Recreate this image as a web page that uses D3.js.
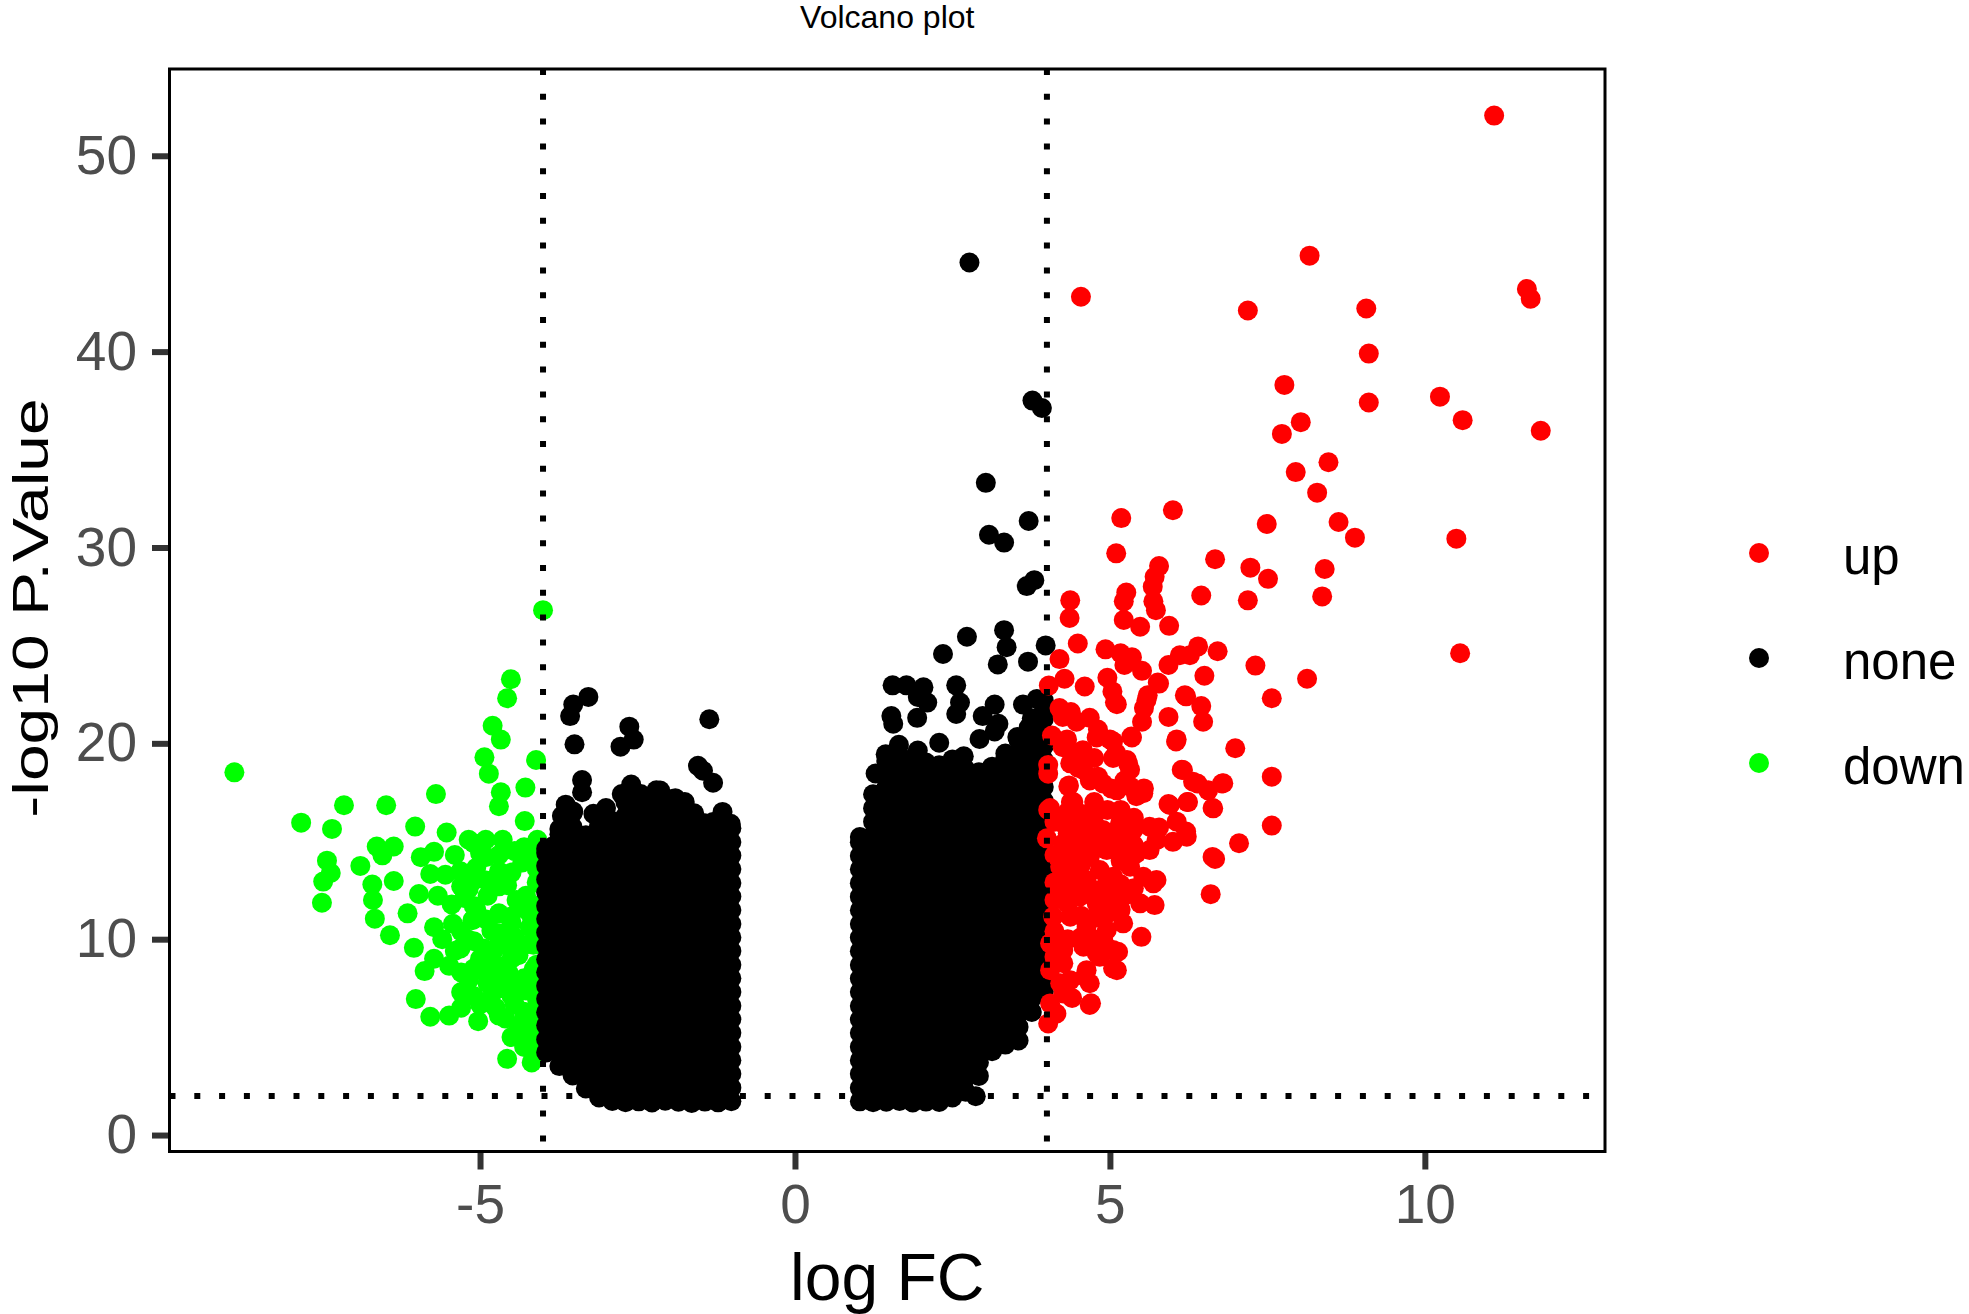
<!DOCTYPE html>
<html>
<head>
<meta charset="utf-8">
<script src="https://cdn.jsdelivr.net/npm/d3@7"></script>
<style>
    body { margin: 0; background: #ffffff; }
    svg { display: block; font-family: "Liberation Sans", Arial, Helvetica, sans-serif; }
</style>
</head>
<body>
<svg id="chart" width="1969" height="1314"></svg>
<script>

/** Significant genes, up-regulated: [logFC, -log10 P] */
const upPoints = [
    [11.1, 52.05], [8.17, 44.9], [4.54, 42.8], [7.19, 42.1], [9.07, 42.2], [11.62, 43.2], [11.68, 42.7],
    [9.11, 39.9], [7.77, 38.3], [10.24, 37.7], [9.11, 37.4], [8.03, 36.4], [10.6, 36.5], [7.73, 35.8],
    [11.84, 35.96], [8.47, 34.35], [7.95, 33.85], [8.29, 32.8], [7.49, 31.2], [8.63, 31.3], [8.89, 30.5],
    [10.5, 30.45], [5.18, 31.5], [6.0, 31.9], [5.1, 29.7], [6.67, 29.4], [7.23, 28.97], [8.41, 28.9],
    [7.51, 28.4], [5.78, 29.05], [7.19, 27.3], [8.37, 27.5], [10.56, 24.6], [7.31, 23.97], [8.13, 23.3],
    [7.57, 22.3], [6.99, 19.75], [7.57, 18.3], [7.57, 15.8], [7.05, 14.9], [6.63, 14.2], [6.6, 12.3],
    [4.7, 6.73], [4.02, 5.7],
    [6.45, 27.55], [5.71, 28.5], [5.68, 28.0], [5.26, 27.7], [5.22, 27.25], [5.69, 27.25], [5.73, 26.8],
    [5.22, 26.3], [5.48, 25.95], [5.94, 26.0], [4.37, 27.3], [4.36, 26.4], [4.49, 25.1], [4.2, 24.3],
    [4.28, 23.3], [4.03, 22.95], [4.6, 22.9], [4.93, 24.8], [5.17, 24.6], [5.35, 24.4], [5.23, 24.0],
    [5.51, 23.7], [5.93, 24.0], [6.11, 24.5], [6.27, 24.5], [6.4, 24.95], [6.71, 24.7], [6.5, 23.45],
    [4.96, 23.35], [5.04, 22.65], [5.11, 22.0], [5.78, 23.05], [5.6, 22.45], [5.54, 21.8], [6.21, 22.4],
    [6.45, 21.9], [6.48, 21.1], [5.93, 21.35], [6.05, 20.1], [5.51, 21.1], [5.35, 20.3], [5.05, 20.1],
    [4.2, 21.8], [4.38, 21.6], [4.68, 21.3], [4.81, 20.7], [4.08, 20.4], [4.32, 20.2], [4.5, 19.5],
    [4.75, 19.25], [5.05, 19.25], [5.29, 18.95], [4.5, 18.75], [4.81, 18.3], [5.23, 18.1], [5.54, 17.7],
    [4.02, 18.45], [4.35, 17.85], [4.68, 18.1], [5.02, 17.7], [5.42, 17.3], [5.93, 16.9], [6.14, 18.65],
    [6.39, 17.95], [6.23, 17.0], [6.63, 16.7], [6.78, 17.95], [4.05, 16.7], [4.38, 17.0], [5.78, 15.7],
    [6.21, 15.5], [4.75, 15.7],
    [5.08, 22.1], [5.58, 22.2], [5.76, 23.1], [6.19, 22.45], [6.06, 20.2], [5.34, 20.35], [4.25, 21.35],
    [4.47, 21.1], [4.25, 19.8], [4.57, 19.65], [4.79, 20.3], [5.0, 20.2], [5.1, 19.5], [5.27, 19.15],
    [5.32, 18.65], [4.02, 18.9], [4.37, 18.98], [4.58, 18.64], [4.74, 18.21], [4.89, 17.95], [5.11, 17.6],
    [5.32, 17.8], [5.53, 17.45], [4.34, 17.8], [4.42, 17.0], [4.02, 16.6], [5.95, 16.85], [6.06, 16.0],
    [6.16, 18.64], [6.32, 18.04], [6.56, 17.6], [6.8, 17.96], [6.64, 16.68], [6.24, 17.0], [6.0, 14.97],
    [6.22, 15.23], [6.67, 14.1], [4.0, 15.15], [4.26, 15.9], [4.52, 15.74], [4.74, 16.08], [4.89, 15.57],
    [5.16, 15.91], [5.37, 15.57], [5.63, 15.74], [4.26, 14.9], [4.47, 14.55], [4.68, 14.2], [4.95, 14.55],
    [5.21, 14.72], [5.42, 14.38], [5.63, 14.55], [5.74, 15.06], [4.21, 13.7], [4.42, 13.36], [4.63, 13.02],
    [4.84, 13.53], [5.05, 13.19], [5.32, 13.7], [5.53, 13.19], [5.74, 13.02], [4.26, 12.51], [4.52, 12.17],
    [4.79, 11.83], [5.0, 12.51], [5.21, 12.17], [5.48, 11.83], [5.71, 11.74], [4.1, 11.15], [4.37, 11.15],
    [4.63, 10.64], [4.95, 10.47], [5.21, 10.81], [5.5, 10.12], [4.05, 9.79], [4.26, 9.45], [4.58, 9.62],
    [4.79, 9.28], [5.05, 9.45], [5.11, 8.42], [4.05, 8.42], [4.26, 8.77], [4.37, 7.91], [4.63, 8.42],
    [4.68, 7.75], [4.84, 9.1], [4.26, 7.23], [4.05, 6.72],
    [5.69, 12.85], [5.13, 9.36], [5.05, 8.51], [4.6, 8.08], [4.29, 7.75], [4.68, 6.64], [4.21, 7.75],
    [4.12, 9.1], [4.12, 10.4], [4.12, 12.0], [4.12, 12.9], [4.12, 14.3], [4.12, 16.0],
    [4.33, 10.0], [4.33, 11.8], [4.33, 13.0], [4.33, 14.0], [4.33, 15.4], [4.33, 16.5],
    [4.54, 10.1], [4.54, 11.2], [4.54, 12.6], [4.54, 13.8], [4.54, 15.1], [4.54, 16.4],
    [4.75, 10.0], [4.75, 11.1], [4.75, 12.5], [4.75, 14.6], [4.75, 15.1], [4.75, 17.0],
    [4.96, 11.3], [4.96, 12.0], [4.96, 13.0], [4.96, 15.2], [4.96, 16.6],
    [5.17, 11.5], [5.17, 12.8], [5.17, 14.0], [5.17, 15.3], [5.17, 16.6],
    [5.38, 12.6], [5.38, 14.8], [5.38, 16.2], [4.15, 6.2], [4.4, 7.0], [4.9, 9.9]
];

/** Significant genes, down-regulated */
const downPoints = [
    [-4.0, 26.8], [-8.9, 18.52], [-4.51, 23.27], [-4.57, 22.3], [-4.8, 20.9], [-4.67, 20.19], [-4.93, 19.29],
    [-4.86, 18.45], [-4.11, 19.15], [-4.28, 17.74], [-4.67, 17.5], [-4.7, 16.79], [-5.7, 17.41], [-6.49, 16.84],
    [-7.16, 16.84], [-7.84, 15.95], [-7.35, 15.63], [-6.03, 15.75], [-5.53, 15.45], [-4.29, 16.03],
    [-6.64, 14.73], [-6.37, 14.73], [-6.55, 14.28], [-7.43, 14.01], [-7.37, 13.38], [-7.49, 12.94],
    [-7.51, 11.86], [-6.9, 13.74], [-6.71, 12.79], [-6.7, 12.0], [-6.67, 11.05], [-6.43, 10.2], [-6.37, 12.97],
    [-6.15, 11.32], [-6.05, 9.56], [-5.94, 14.19], [-5.73, 14.46], [-5.79, 13.33], [-5.55, 13.29],
    [-5.31, 13.47], [-5.18, 15.08], [-4.91, 15.08], [-4.64, 15.08], [-4.09, 15.08], [-4.33, 13.92],
    [-5.06, 13.65], [-4.7, 13.47], [-5.97, 12.31], [-5.67, 12.22], [-5.45, 11.77], [-5.18, 12.58],
    [-4.88, 12.22], [-4.57, 12.76], [-4.27, 12.22], [-5.73, 10.61], [-5.43, 10.79], [-5.12, 10.97],
    [-4.82, 10.43], [-4.51, 11.15], [-4.21, 10.61], [-5.73, 9.0], [-5.49, 8.64], [-5.31, 9.53], [-5.0, 9.0],
    [-4.7, 8.64], [-4.39, 9.18], [-4.15, 8.46], [-5.88, 8.37], [-5.18, 7.92], [-4.88, 7.74], [-4.57, 7.56],
    [-4.27, 7.38], [-6.02, 6.94], [-5.79, 6.04], [-5.49, 6.1], [-5.03, 5.81], [-5.0, 6.67], [-4.6, 5.95],
    [-4.39, 5.41], [-4.21, 4.88], [-4.15, 5.95], [-4.57, 3.89], [-4.18, 3.71], [-4.45, 6.67], [-4.94, 9.53],
    [-4.76, 9.53], [-4.57, 9.71], [-5.06, 11.5], [-4.7, 11.32], [-4.21, 11.32], [-4.15, 9.71], [-4.88, 6.85],
    [-4.76, 7.38],
    [-5.4, 14.3], [-5.0, 14.4], [-4.45, 14.5], [-4.15, 14.2], [-5.25, 12.1], [-4.42, 12.0], [-4.1, 12.9],
    [-5.6, 10.0], [-5.2, 10.0], [-4.45, 10.1], [-4.1, 10.2], [-5.4, 9.4], [-4.55, 8.3], [-4.1, 7.0],
    [-4.4, 7.8], [-5.3, 7.3], [-4.3, 6.3], [-4.75, 6.5], [-5.3, 6.5], [-4.1, 13.6],
    [-5.3, 12.7], [-5.3, 10.4], [-5.3, 8.3], [-5.1, 14.9], [-5.1, 13.0], [-5.1, 11.7], [-5.1, 9.9],
    [-5.1, 8.5], [-5.1, 7.1], [-4.9, 14.2], [-4.9, 13.0], [-4.9, 11.0], [-4.9, 9.0], [-4.9, 8.2],
    [-4.7, 14.3], [-4.7, 12.7], [-4.7, 10.3], [-4.7, 7.9], [-4.7, 6.1], [-4.5, 13.4], [-4.5, 10.8],
    [-4.5, 9.0], [-4.5, 7.1], [-4.5, 5.0], [-4.3, 14.7], [-4.3, 11.6], [-4.3, 9.7], [-4.3, 8.0],
    [-4.3, 5.9], [-4.3, 4.5], [-4.1, 14.8], [-4.1, 11.7], [-4.1, 8.7], [-4.1, 7.7], [-4.1, 6.5],
    [-4.1, 5.3], [-4.1, 4.4]
];

/** Not significant: scattered genes above the two dense clouds */
const noneOutliers = [
    [-3.28, 22.37], [-3.52, 21.98], [-3.57, 21.39], [-3.5, 19.95], [-2.63, 20.85], [-2.56, 20.19],
    [-2.77, 19.83], [-1.36, 21.23], [-3.38, 18.13], [-3.38, 17.5], [-1.54, 18.85], [-1.3, 17.99],
    [-1.46, 18.6], [-3.64, 16.87], [-3.52, 16.52], [-3.0, 16.7], [-2.75, 17.41], [-2.45, 17.41],
    [-2.14, 17.59], [-1.99, 17.14], [-2.02, 16.43], [-2.39, 16.7], [-2.87, 15.98], [-1.6, 16.43],
    [-1.3, 15.98], [-1.02, 15.89], [-3.64, 15.63], [-3.85, 14.73], [-3.24, 15.09],
    [-3.7, 16.3], [-3.2, 16.4], [-2.6, 17.9], [-2.2, 17.6], [-1.9, 17.2], [-1.75, 17.0], [-1.15, 16.5],
    [2.77, 44.55], [3.77, 37.5], [3.92, 37.12], [3.03, 33.3], [3.71, 31.35], [3.08, 30.65], [3.32, 30.25],
    [3.8, 28.33], [3.68, 28.03], [3.32, 25.78], [3.36, 24.91], [3.22, 24.03], [2.73, 25.44], [2.35, 24.56],
    [3.98, 25.0], [3.7, 24.17], [1.55, 22.96], [1.77, 22.96], [2.04, 22.86], [1.95, 22.37], [2.1, 22.08],
    [1.53, 21.39], [1.56, 21.0], [1.94, 21.3], [2.56, 22.96], [2.62, 22.08], [2.56, 21.5], [3.17, 21.98],
    [2.98, 21.39], [3.23, 21.0], [3.62, 21.98], [3.84, 22.27], [3.96, 21.78], [1.65, 19.93], [1.95, 19.63],
    [2.29, 20.03], [1.44, 19.44], [1.28, 18.46], [2.68, 19.34], [2.93, 20.22], [3.17, 20.61], [3.53, 20.32],
    [3.71, 20.81], [3.84, 20.22], [3.84, 18.85], [2.87, 1.98]
];

/** Not significant, dense cloud with logFC < 0: [logFC, [-log10 P values]] */
const noneLeftCols = [
    [-3.95, [4.22, 4.88, 5.6, 6.27, 6.95, 7.62, 8.31, 8.97, 9.66, 10.34, 11.03, 11.7, 12.38, 13.05, 13.74, 14.4, 14.62]],
    [-3.74, [3.52, 4.17, 4.86, 5.57, 6.23, 6.96, 7.63, 8.37, 9.04, 9.78, 10.43, 11.16, 11.83, 12.57, 13.24, 13.97, 14.63, 15.36, 15.62]],
    [-3.53, [3.04, 3.78, 4.52, 5.18, 5.93, 6.58, 7.32, 7.98, 8.72, 9.38, 10.12, 10.78, 11.52, 12.18, 12.92, 13.58, 14.32, 14.98, 15.72, 16.45]],
    [-3.32, [2.38, 3.08, 3.76, 4.47, 5.16, 5.88, 6.55, 7.27, 7.96, 8.65, 9.36, 10.04, 10.77, 11.44, 12.16, 12.85, 13.57, 14.24, 14.96, 15.31]],
    [-3.11, [1.92, 2.6, 3.31, 4.02, 4.7, 5.41, 6.1, 6.8, 7.49, 8.2, 8.88, 9.59, 10.27, 10.98, 11.67, 12.37, 13.06, 13.76, 14.44, 15.15, 15.8]],
    [-2.9, [1.74, 2.43, 3.12, 3.83, 4.52, 5.21, 5.92, 6.61, 7.3, 8.01, 8.7, 9.39, 10.1, 10.79, 11.48, 12.19, 12.88, 13.57, 14.28, 14.97, 15.66, 16.02]],
    [-2.69, [1.68, 2.36, 3.05, 3.76, 4.45, 5.14, 5.85, 6.54, 7.23, 7.94, 8.63, 9.32, 10.03, 10.72, 11.41, 12.12, 12.81, 13.5, 14.21, 14.9, 15.59, 16.3, 16.98]],
    [-2.48, [1.72, 2.08, 2.77, 3.48, 4.17, 4.86, 5.57, 6.26, 6.95, 7.66, 8.35, 9.04, 9.75, 10.44, 11.13, 11.84, 12.53, 13.22, 13.93, 14.62, 15.31, 16.02, 16.71, 17.28]],
    [-2.27, [1.66, 2.35, 3.06, 3.75, 4.44, 5.15, 5.84, 6.53, 7.24, 7.93, 8.62, 9.33, 10.02, 10.71, 11.42, 12.11, 12.8, 13.51, 14.2, 14.89, 15.6, 16.29, 16.96]],
    [-2.06, [1.75, 2.06, 2.76, 3.45, 4.16, 4.85, 5.54, 6.25, 6.94, 7.63, 8.34, 9.03, 9.72, 10.43, 11.12, 11.81, 12.52, 13.21, 13.9, 14.61, 15.3, 15.99, 16.7, 17.12]],
    [-1.85, [1.7, 2.39, 3.1, 3.79, 4.48, 5.19, 5.88, 6.57, 7.28, 7.97, 8.66, 9.37, 10.06, 10.75, 11.46, 12.15, 12.84, 13.55, 14.24, 14.93, 15.64, 16.28]],
    [-1.64, [1.64, 2.04, 2.73, 3.44, 4.13, 4.82, 5.53, 6.22, 6.91, 7.62, 8.31, 9.0, 9.71, 10.4, 11.09, 11.8, 12.49, 13.18, 13.89, 14.58, 15.27, 15.98, 16.38]],
    [-1.43, [1.71, 2.4, 3.11, 3.8, 4.49, 5.2, 5.89, 6.58, 7.29, 7.98, 8.67, 9.38, 10.07, 10.76, 11.47, 12.16, 12.85, 13.56, 14.25, 14.94, 15.65, 15.92]],
    [-1.22, [1.67, 2.07, 2.78, 3.47, 4.16, 4.87, 5.56, 6.25, 6.96, 7.65, 8.34, 9.05, 9.74, 10.43, 11.14, 11.83, 12.52, 13.23, 13.92, 14.61, 15.32, 15.88]],
    [-1.01, [1.73, 2.42, 3.13, 3.82, 4.51, 5.22, 5.91, 6.6, 7.31, 8.0, 8.69, 9.4, 10.09, 10.78, 11.49, 12.18, 12.87, 13.58, 14.27, 14.96, 15.67]]
];

/** Not significant, dense cloud with logFC > 0 */
const noneRightCols = [
    [1.03, [1.72, 2.41, 3.12, 3.81, 4.5, 5.21, 5.9, 6.59, 7.3, 7.99, 8.68, 9.39, 10.08, 10.77, 11.48, 12.17, 12.86, 13.57, 14.26, 14.95, 15.22]],
    [1.24, [1.68, 2.06, 2.77, 3.46, 4.15, 4.86, 5.55, 6.24, 6.95, 7.64, 8.33, 9.04, 9.73, 10.42, 11.13, 11.82, 12.51, 13.22, 13.91, 14.6, 15.31, 16.0, 16.69, 17.4]],
    [1.45, [1.7, 2.39, 3.1, 3.79, 4.48, 5.19, 5.88, 6.57, 7.28, 7.97, 8.66, 9.37, 10.06, 10.75, 11.46, 12.15, 12.84, 13.55, 14.24, 14.93, 15.64, 16.33, 17.02, 17.73, 18.42, 19.11]],
    [1.66, [1.74, 2.05, 2.74, 3.45, 4.14, 4.83, 5.54, 6.23, 6.92, 7.63, 8.32, 9.01, 9.72, 10.41, 11.1, 11.81, 12.5, 13.19, 13.9, 14.59, 15.28, 15.99, 16.68, 17.37, 18.08, 18.77, 19.38]],
    [1.87, [1.66, 2.37, 3.06, 3.75, 4.46, 5.15, 5.84, 6.55, 7.24, 7.93, 8.64, 9.33, 10.02, 10.73, 11.42, 12.11, 12.82, 13.51, 14.2, 14.91, 15.6, 16.29, 17.0, 17.69, 18.38, 19.09, 19.21]],
    [2.08, [1.71, 2.08, 2.79, 3.48, 4.17, 4.88, 5.57, 6.26, 6.97, 7.66, 8.35, 9.06, 9.75, 10.44, 11.15, 11.84, 12.53, 13.24, 13.93, 14.62, 15.33, 16.02, 16.71, 17.42, 18.11, 18.8, 19.02]],
    [2.29, [1.69, 2.4, 3.09, 3.78, 4.49, 5.18, 5.87, 6.58, 7.27, 7.96, 8.67, 9.36, 10.05, 10.76, 11.45, 12.14, 12.85, 13.54, 14.23, 14.94, 15.63, 16.32, 17.03, 17.72, 18.41, 18.88]],
    [2.5, [1.92, 2.62, 3.31, 4.02, 4.71, 5.4, 6.11, 6.8, 7.49, 8.2, 8.89, 9.58, 10.29, 10.98, 11.67, 12.38, 13.07, 13.76, 14.47, 15.16, 15.85, 16.56, 17.25, 17.94, 18.65, 19.18]],
    [2.71, [2.21, 2.92, 3.61, 4.3, 5.0, 5.69, 6.39, 7.1, 7.78, 8.49, 9.18, 9.88, 10.58, 11.27, 11.97, 12.67, 13.36, 14.06, 14.76, 15.45, 16.15, 16.85, 17.54, 18.24, 18.66]],
    [2.92, [3.02, 3.71, 4.42, 5.11, 5.8, 6.51, 7.2, 7.89, 8.6, 9.29, 9.98, 10.69, 11.38, 12.07, 12.78, 13.47, 14.16, 14.87, 15.56, 16.25, 16.96, 17.65, 18.36, 18.52]],
    [3.13, [4.28, 4.97, 5.68, 6.37, 7.06, 7.77, 8.46, 9.15, 9.86, 10.55, 11.24, 11.95, 12.64, 13.33, 14.04, 14.73, 15.42, 16.13, 16.82, 17.51, 18.22, 18.81]],
    [3.34, [4.62, 5.31, 6.02, 6.71, 7.4, 8.11, 8.8, 9.49, 10.2, 10.89, 11.58, 12.29, 12.98, 13.67, 14.38, 15.07, 15.76, 16.47, 17.16, 17.85, 18.56, 19.25, 19.48]],
    [3.55, [4.83, 5.52, 6.21, 6.92, 7.61, 8.3, 9.01, 9.7, 10.39, 11.1, 11.79, 12.48, 13.19, 13.88, 14.57, 15.28, 15.97, 16.66, 17.37, 18.06, 18.75, 19.46, 20.15]],
    [3.76, [6.28, 6.97, 7.68, 8.37, 9.06, 9.77, 10.46, 11.15, 11.86, 12.55, 13.24, 13.95, 14.64, 15.33, 16.04, 16.73, 17.42, 18.13, 18.82, 19.51, 20.22, 20.91, 21.28]],
    [3.95, [7.32, 8.01, 8.7, 9.41, 10.1, 10.79, 11.5, 12.19, 12.88, 13.59, 14.28, 14.97, 15.68, 16.37, 17.06, 17.77, 18.46, 19.15, 19.86, 20.55, 21.24, 21.95, 22.18]]
];

const xTicks = [-5, 0, 5, 10];
const yTicks = [0, 10, 20, 30, 40, 50];
const fcCutoffs = [-4, 4];
const pCutoff = 2;
const groups = ["up", "none", "down"];
const groupColors = ["#FF0000", "#000000", "#00FF00"];


/** Class drawing the volcano plot. */
class VolcanoPlot {

    constructor(svg) {
        this.svg = svg;

        this.panel = {"left": 169.5, "right": 1605, "top": 69, "bottom": 1151.5};
        this.radius = 10;

        this.xScale = d3.scaleLinear()
            .domain([-9.93, 12.86])
            .range([this.panel.left, this.panel.right]);

        this.yScale = d3.scaleLinear()
            .domain([-0.84, 54.43])
            .range([this.panel.bottom, this.panel.top]);

        this.color = d3.scaleOrdinal().domain(groups).range(groupColors);
    }

    pointRows() {
        let cols = noneLeftCols.concat(noneRightCols);
        let none = cols.flatMap(c => c[1].map(v => [c[0], v]));
        none = none.concat(noneOutliers);

        // draw order: down, none, up
        return [].concat(
            downPoints.map(d => ({"fc": d[0], "p": d[1], "group": "down"})),
            none.map(d => ({"fc": d[0], "p": d[1], "group": "none"})),
            upPoints.map(d => ({"fc": d[0], "p": d[1], "group": "up"}))
        );
    }

    drawAxes() {
        let p = this.panel;

        // plain hyphen for negative labels, like R does
        let plain = d => String(d);

        let yAxis = d3.axisLeft(this.yScale)
            .tickValues(yTicks)
            .tickFormat(plain)
            .tickSize(17.5)
            .tickPadding(15);

        let gy = this.svg.append("g")
            .attr("transform", `translate(${p.left},0)`)
            .call(yAxis);

        let xAxis = d3.axisBottom(this.xScale)
            .tickValues(xTicks)
            .tickFormat(plain)
            .tickSize(18)
            .tickPadding(14.5);

        let gx = this.svg.append("g")
            .attr("transform", `translate(0,${p.bottom})`)
            .call(xAxis);

        [gx, gy].forEach(g => {
            g.select(".domain").remove();
            g.selectAll(".tick line")
                .attr("stroke", "#333333")
                .attr("stroke-width", 6);
            g.selectAll(".tick text")
                .attr("fill", "#4D4D4D")
                .style("font-size", "55px")
                .style("font-family", "'Liberation Sans', Arial, sans-serif");
        });
    }

    drawPoints() {
        this.svg.append("g")
            .selectAll("circle")
            .data(this.pointRows())
            .enter().append("circle")
            .attr("cx", d => this.xScale(d.fc))
            .attr("cy", d => this.yScale(d.p))
            .attr("r", this.radius)
            .attr("fill", d => this.color(d.group));
    }

    drawCutoffs() {
        let p = this.panel;
        let g = this.svg.append("g")
            .attr("stroke", "#000000")
            .attr("stroke-width", 6)
            .attr("stroke-dasharray", "6 18.8");

        g.selectAll("line.v")
            .data(fcCutoffs)
            .enter().append("line")
            .attr("class", "v")
            .attr("x1", d => this.xScale(d))
            .attr("x2", d => this.xScale(d))
            .attr("y1", p.top)
            .attr("y2", p.bottom);

        g.append("line")
            .attr("x1", p.left)
            .attr("x2", p.right)
            .attr("y1", this.yScale(pCutoff))
            .attr("y2", this.yScale(pCutoff));
    }

    drawFrame() {
        let p = this.panel;
        this.svg.append("rect")
            .attr("x", p.left)
            .attr("y", p.top)
            .attr("width", p.right - p.left)
            .attr("height", p.bottom - p.top)
            .attr("fill", "none")
            .attr("stroke", "#000000")
            .attr("stroke-width", 3);
    }

    drawLabels() {
        let mid = (this.panel.left + this.panel.right) / 2;

        this.svg.append("text")
            .attr("x", mid)
            .attr("y", 28)
            .attr("text-anchor", "middle")
            .style("font-size", "32px")
            .text("Volcano plot");

        this.svg.append("text")
            .attr("x", mid)
            .attr("y", 1300)
            .attr("text-anchor", "middle")
            .style("font-size", "66px")
            .text("log FC");

        this.svg.append("text")
            .attr("transform", "translate(48,608) rotate(-90) scale(1,0.76)")
            .attr("text-anchor", "middle")
            .style("font-size", "66px")
            .text("-log10 P.Value");
    }

    drawLegend() {
        let ly = d3.scalePoint().domain(groups).range([553, 763]);

        let item = this.svg.append("g")
            .selectAll("g")
            .data(groups)
            .enter().append("g")
            .attr("transform", d => `translate(1759,${ly(d)})`);

        item.append("circle")
            .attr("r", this.radius)
            .attr("fill", d => this.color(d));

        // labels kept just inside the right edge
        item.append("text")
            .attr("x", 84)
            .attr("y", 21)
            .style("font-size", "51px")
            .text(d => d);
    }

    draw() {
        this.drawAxes();
        this.drawPoints();
        this.drawCutoffs();
        this.drawFrame();
        this.drawLabels();
        this.drawLegend();
    }
}

let plot = new VolcanoPlot(d3.select("#chart"));
plot.draw();

</script>
</body>
</html>
